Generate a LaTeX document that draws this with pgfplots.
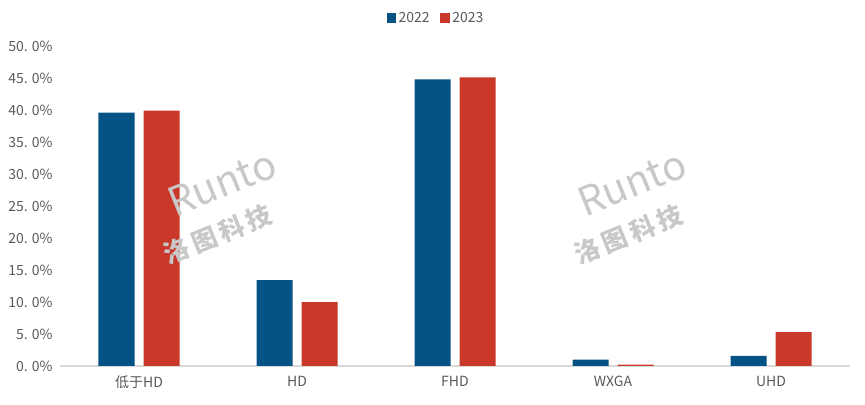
\documentclass[border=0pt]{standalone}
\usepackage{fontspec}
\setmainfont{Noto Sans CJK SC}
\usepackage{pgfplots}
\pgfplotsset{compat=1.18}
\definecolor{cblue}{RGB}{5,83,132}
\definecolor{cred}{RGB}{201,56,40}
\definecolor{txt}{RGB}{89,89,89}
\definecolor{axl}{RGB}{217,217,217}
\definecolor{wm}{RGB}{200,200,200}
\begin{document}
\begin{tikzpicture}[x=1pt,y=1pt]
\begin{axis}[
  name=plot,
  scale only axis,
  width=592.5pt, height=240pt,
  xmin=-0.5, xmax=4.5,
  ymin=0, ymax=50,
  ybar=6.75pt, bar width=27pt,
  xtick={0,1,2,3,4},
  xticklabels={低于HD, HD, FHD, WXGA, UHD},
  ytick={0,5,...,50},
  yticklabels={0. 0\%, 5. 0\%, 10. 0\%, 15. 0\%, 20. 0\%, 25. 0\%, 30. 0\%, 35. 0\%, 40. 0\%, 45. 0\%, 50. 0\%},
  major tick length=0pt,
  axis x line*=bottom,
  axis y line*=left,
  y axis line style={draw=none},
  x axis line style={draw=axl, line width=0.8pt, -},
  ticklabel style={font=\fontsize{10.5}{12}\selectfont, text=txt},
  xticklabel style={yshift=-4pt},
  yticklabel style={xshift=-2pt},
  clip=false,
  legend style={draw=none, at={(0.5,1)}, anchor=center, xshift=-14pt, yshift=21pt,
    font=\fontsize{10.5}{12}\selectfont, text=txt,
    /tikz/every even column/.append style={column sep=6pt}},
  legend columns=2,
  legend image code/.code={\fill[#1] (0pt,-3.5pt) rectangle (7pt,3.5pt);},
]
\addplot[fill=cblue, draw=none] coordinates {(0,39.6) (1,13.4) (2,44.8) (3,1.0) (4,1.6)};
\addlegendentry{2022}
\addplot[fill=cred, draw=none] coordinates {(0,39.9) (1,10.0) (2,45.1) (3,0.2) (4,5.3)};
\addlegendentry{2023}
\node[rotate=22, text=wm, font=\fontsize{30}{30}\selectfont] at (axis cs:0.525,28.6) {Runto};
\node[rotate=22, text=wm, font=\bfseries\itshape\fontsize{19}{19}\selectfont] at (axis cs:0.50,20.6) {洛\,图\,科\,技};
\node[rotate=22, text=wm, font=\fontsize{30}{30}\selectfont] at (axis cs:3.12,28.6) {Runto};
\node[rotate=22, text=wm, font=\bfseries\itshape\fontsize{19}{19}\selectfont] at (axis cs:3.10,20.6) {洛\,图\,科\,技};
\end{axis}
\pgfresetboundingbox
\path[use as bounding box] ([xshift=-45pt,yshift=-28.5pt]plot.south west) rectangle ([xshift=11.25pt,yshift=34.5pt]plot.north east);
\end{tikzpicture}
\end{document}
